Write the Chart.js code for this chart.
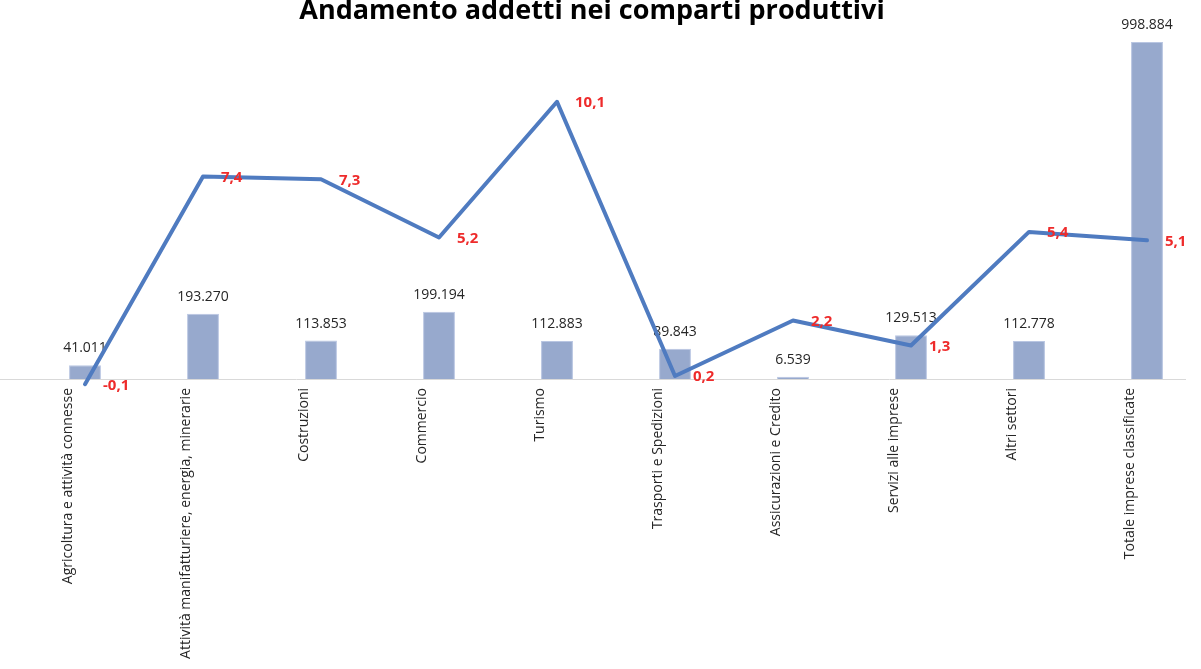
<!DOCTYPE html>
<html>
<head>
<meta charset="utf-8">
<script src="https://cdn.jsdelivr.net/npm/chart.js@4"></script>
<style>
  body { margin: 0; background: #fff; }
  canvas { display: block; }
</style>
</head>
<body>
<canvas id="chart" width="1201" height="669"></canvas>
<script>
const TITLE = 'Andamento addetti nei comparti produttivi';
const categories = [
    'Agricoltura e attività connesse',
    'Attività manifatturiere, energia, minerarie',
    'Costruzioni',
    'Commercio',
    'Turismo',
    'Trasporti e Spedizioni',
    'Assicurazioni e Credito',
    'Servizi alle imprese',
    'Altri settori',
    'Totale imprese classificate'
];
const addetti = [41011, 193270, 113853, 199194, 112883, 89843, 6539, 129513, 112778, 998884];
const variazione = [-0.1, 7.4, 7.3, 5.2, 10.1, 0.2, 2.2, 1.3, 5.4, 5.1];

// 1.234.567 style and 7,4 style
function fmtInt(v) { return v.toString().replace(/\B(?=(\d{3})+(?!\d))/g, '.'); }
function fmtPct(v) { return v.toFixed(1).replace('.', ','); }

// title + baseline + data labels
const extras = {
    id: 'extras',
    beforeDatasetsDraw(chart) {
        const ctx = chart.ctx;
        const y0 = chart.scales.y.getPixelForValue(0);
        ctx.save();
        ctx.strokeStyle = '#d9d9d9';
        ctx.lineWidth = 1;
        ctx.beginPath();
        ctx.moveTo(0, Math.round(y0) + 0.5);
        ctx.lineTo(1186, Math.round(y0) + 0.5);
        ctx.stroke();
        ctx.restore();
    },
    afterDatasetDraw(chart, args) {
        const ctx = chart.ctx;
        ctx.save();
        if (args.index === 0) {
            ctx.font = '14px "Open Sans"';
            ctx.fillStyle = '#262626';
            ctx.textAlign = 'center';
            ctx.textBaseline = 'middle';
            args.meta.data.forEach((bar, i) => {
                ctx.fillText(fmtInt(addetti[i]), bar.x, bar.y - 17);
            });
        } else {
            ctx.font = 'bold 15px "Open Sans"';
            ctx.fillStyle = '#ee2b2b';
            ctx.textAlign = 'left';
            ctx.textBaseline = 'middle';
            args.meta.data.forEach((pt, i) => {
                ctx.fillText(fmtPct(variazione[i]), pt.x + 18, pt.y + 1);
            });
        }
        ctx.restore();
    },
    afterDraw(chart) {
        const ctx = chart.ctx;
        ctx.save();
        ctx.font = 'bold 27px "Open Sans"';
        ctx.fillStyle = '#000';
        ctx.textAlign = 'center';
        ctx.textBaseline = 'alphabetic';
        ctx.fillText(TITLE, 592, 19);
        ctx.restore();
    }
};

new Chart(document.getElementById('chart'), {
    type: 'bar',
    data: {
        labels: categories,
        datasets: [{
            type: 'bar',
            label: 'Addetti',
            data: addetti,
            yAxisID: 'y',
            backgroundColor: '#97a9cd',
            borderColor: '#b9c6e2',
            borderWidth: 1,
            barPercentage: 0.27,
            categoryPercentage: 1,
            clip: false,
            order: 1
        }, {
            type: 'line',
            label: 'Variazione %',
            data: variazione,
            yAxisID: 'y1',
            borderColor: '#4f7bc0',
            borderWidth: 4,
            borderCapStyle: 'round',
            borderJoinStyle: 'round',
            pointRadius: 0,
            tension: 0,
            clip: false,
            order: 0
        }]
    },
    options: {
        responsive: false,
        animation: false,
        layout: { padding: { top: 40, left: 85, right: 54, bottom: 0 } },
        plugins: {
            legend: { display: false },
            title: { display: false },
            tooltip: { enabled: false }
        },
        scales: {
            x: {
                offset: false,
                grid: { display: false, drawTicks: false },
                border: { display: false },
                ticks: {
                    autoSkip: false,
                    maxRotation: 90,
                    minRotation: 90,
                    padding: 9,
                    labelOffset: -17,
                    color: '#262626',
                    font: { family: 'Open Sans', size: 14 }
                },
                afterFit(axis) { axis.height = 290; }
            },
            y: {
                display: false,
                min: 0,
                max: 1005000
            },
            y1: {
                display: false,
                position: 'right',
                min: 0.09,
                max: 12.33
            }
        }
    },
    plugins: [extras]
});
</script>
</body>
</html>
